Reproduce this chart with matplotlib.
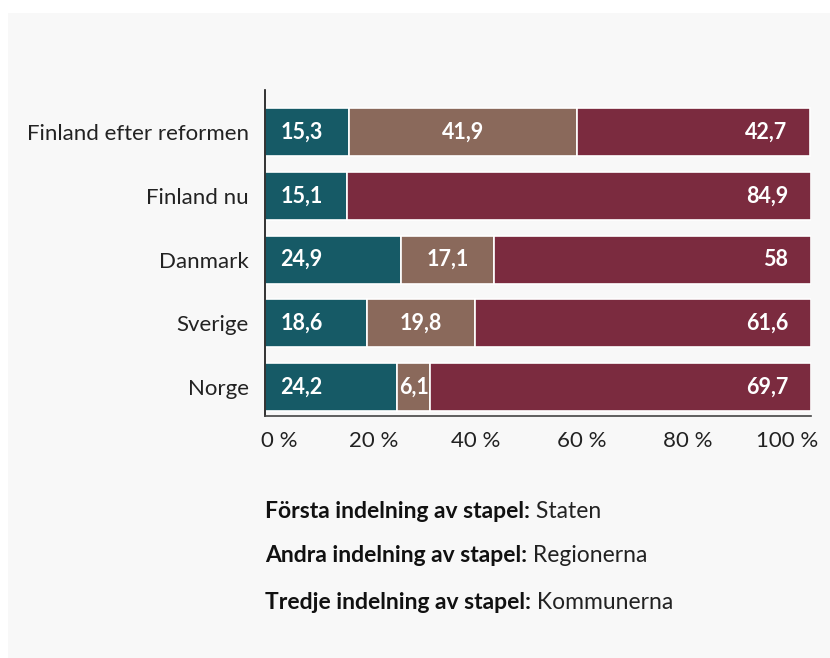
import numpy as np
import matplotlib.pyplot as plt
from matplotlib.patches import Rectangle
from matplotlib.transforms import ScaledTranslation

plt.rcParams['font.family'] = ['Lato', 'DejaVu Sans']

# data
countries = ['Finland efter reformen', 'Finland nu', 'Danmark', 'Sverige', 'Norge']
staten = [15.3, 15.1, 24.9, 18.6, 24.2]
regionerna = [41.9, 0, 17.1, 19.8, 6.1]
kommunerna = [42.7, 84.9, 58, 61.6, 69.7]
ticks = [0, 20, 40, 60, 80, 100]
tick_labels = ['0 %', '20 %', '40 %', '60 %', '80 %', '100 %']
legend_bold = ['Första indelning av stapel:', 'Andra indelning av stapel:',
               'Tredje indelning av stapel:']
legend_normal = ['Staten', 'Regionerna', 'Kommunerna']

colors = ['#165a66', '#8a695b', '#7b2b3f']


def fmt(v):
    return f'{v:g}'.replace('.', ',')


fig = plt.figure(figsize=(8.3, 6.58), dpi=100)
fig.patch.set_facecolor('white')
# light gray panel behind everything
fig.patches.append(Rectangle((8 / 830, 0), 1, 1 - 13 / 658, transform=fig.transFigure,
                             facecolor='#f8f8f8', edgecolor='none', zorder=-10))

ax = fig.add_axes([265 / 830, 1 - 416 / 658, (811 - 265) / 830, (416 - 90) / 658])
ax.set_facecolor('none')

y = np.arange(len(countries))[::-1]
h = 0.753
series = [staten, regionerna, kommunerna]
left = np.zeros(len(countries))
for k, vals in enumerate(series):
    vals = np.array(vals, dtype=float)
    for i in range(len(countries)):
        if vals[i] <= 0:
            continue
        ax.barh(y[i], vals[i], left=left[i], height=h, color=colors[k],
                edgecolor='white', linewidth=1.2)
        if k == 0:
            ax.annotate(fmt(vals[i]), (left[i], y[i]), xytext=(11, 0),
                        textcoords='offset points', ha='left', va='center',
                        color='white', fontsize=15.5, fontweight='bold')
        elif k == 1:
            ax.annotate(fmt(vals[i]), (left[i] + vals[i] / 2, y[i]),
                        ha='center', va='center',
                        color='white', fontsize=15.5, fontweight='bold')
        else:
            ax.annotate(fmt(vals[i]), (left[i] + vals[i], y[i]), xytext=(-16.5, 0),
                        textcoords='offset points', ha='right', va='center',
                        color='white', fontsize=15.5, fontweight='bold')
    left += vals

ax.set_xlim(0, 100)
ax.set_ylim(-0.455, 4.66)
ax.set_xticks(ticks)
ax.set_xticklabels(tick_labels)
ax.set_yticks(y)
ax.set_yticklabels(countries)
ax.tick_params(axis='x', length=0, pad=11, labelsize=16, colors='#222222')
ax.tick_params(axis='y', length=0, pad=11.5, labelsize=16, colors='#222222')

# x tick labels are spread out a bit differently from the ticks in the original
shifts_px = [-4, -1, -8, -11, -14, 7]
xlabels = ax.get_xticklabels()
for lab, dx in zip(xlabels, shifts_px):
    lab.set_transform(lab.get_transform() + ScaledTranslation(dx / 100, 0, fig.dpi_scale_trans))
xlabels[0].set_ha('left')
xlabels[-1].set_ha('right')

for s in ['top', 'right']:
    ax.spines[s].set_visible(False)
ax.spines['left'].set_color('#111111')
ax.spines['left'].set_linewidth(1.2)
ax.spines['bottom'].set_color('#444444')
ax.spines['bottom'].set_linewidth(1.2)

# legend-like text block
baselines = [518, 562, 609]
for b, n, yb in zip(legend_bold, legend_normal, baselines):
    t = fig.text(265 / 830, 1 - yb / 658, b, fontsize=16.5, fontweight='bold',
                 color='#111111', va='baseline', ha='left')
    ax.annotate(' ' + n, xy=(1, 0), xycoords=t, va='bottom', ha='left',
                fontsize=16.5, color='#222222', annotation_clip=False)

fig.savefig('out.png', dpi=100)
